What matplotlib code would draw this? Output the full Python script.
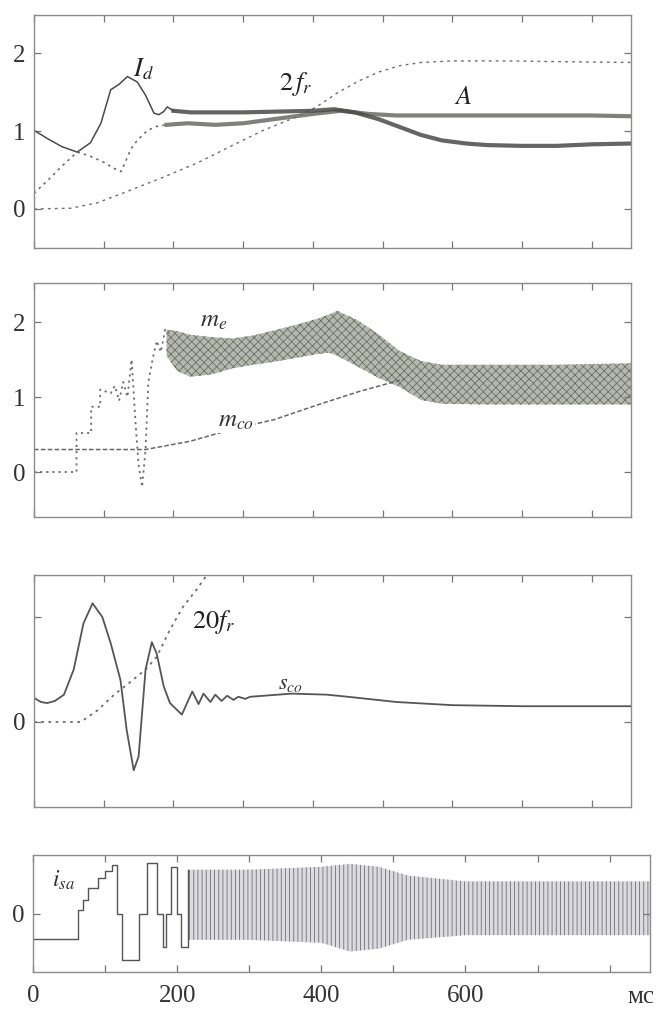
import matplotlib
matplotlib.use("Agg")
import matplotlib.pyplot as plt
import numpy as np

plt.rcParams['font.family'] = ['Liberation Serif', 'DejaVu Serif']
plt.rcParams['mathtext.fontset'] = 'stix'
plt.rcParams['hatch.linewidth'] = 0.6

# ---- panel 1: I_d, A, 2 f_r ----
t_id = [0, 20, 40, 62, 81, 96, 110, 122, 134, 148, 160, 172, 179, 186, 191, 200, 224,
        257, 300, 350, 400, 430, 460, 495, 525, 555, 585, 620, 650, 700, 750, 800, 856]
i_d = [1.01, 0.9, 0.8, 0.73, 0.85, 1.1, 1.53, 1.6, 1.70, 1.63, 1.46, 1.23, 1.21, 1.25, 1.31,
       1.26, 1.24, 1.24, 1.24, 1.25, 1.26, 1.28, 1.24, 1.15, 1.05, 0.95, 0.88, 0.84, 0.82,
       0.81, 0.81, 0.83, 0.84]

t_a = [0, 20, 40, 62, 80, 100, 115, 125, 139, 148, 163, 176, 190, 220, 260, 300, 350,
       400, 440, 480, 520, 600, 700, 800, 856]
a_flux = [0.2, 0.37, 0.55, 0.73, 0.68, 0.6, 0.52, 0.48, 0.77, 0.88, 1.01, 1.06, 1.08, 1.1,
          1.08, 1.1, 1.16, 1.22, 1.26, 1.22, 1.2, 1.2, 1.2, 1.2, 1.19]
a_dotted_end = 190

t_fr = [0, 53, 91, 138, 186, 234, 281, 329, 376, 405, 435, 465, 495, 525, 555, 600, 676,
        760, 856]
fr2 = [0.0, 0.01, 0.08, 0.24, 0.41, 0.59, 0.8, 1.01, 1.18, 1.31, 1.49, 1.64, 1.76, 1.84,
       1.88, 1.9, 1.9, 1.89, 1.88]

# ---- panel 2: m_e, m_co ----
t_me_start = [0, 61, 61, 82, 82, 95, 95, 110, 116, 122, 128, 134, 140, 146, 150, 155, 160,
              164, 170, 176, 182, 188, 194]
me_start = [0, 0, 0.52, 0.52, 0.87, 0.87, 1.1, 1.05, 1.15, 0.95, 1.2, 1.0, 1.5, 0.6, 0.1,
            -0.2, 0.3, 1.2, 1.5, 1.75, 1.6, 1.9, 1.85]
t_me_band = [190, 205, 224, 254, 284, 314, 345, 375, 405, 423, 435, 465, 495, 525, 555,
             585, 650, 750, 856]
me_upper = [1.9, 1.88, 1.83, 1.8, 1.78, 1.82, 1.89, 1.96, 2.04, 2.1, 2.15, 2.02, 1.83, 1.61,
            1.48, 1.43, 1.43, 1.43, 1.45]
me_lower = [1.55, 1.35, 1.27, 1.3, 1.38, 1.43, 1.47, 1.52, 1.57, 1.59, 1.55, 1.4, 1.25, 1.13,
            0.96, 0.91, 0.9, 0.9, 0.9]

t_mco = [0, 160, 224, 284, 345, 405, 465, 531]
m_co = [0.3, 0.3, 0.41, 0.57, 0.7, 0.89, 1.07, 1.24]

# ---- panel 3: s_co, 20 f_r ----
t_s = [0, 10, 19, 30, 43, 57, 71, 84, 98, 110, 124, 133, 143, 150, 160, 169, 176, 186, 195,
       212, 227, 236, 243, 253, 260, 269, 277, 286, 293, 303, 310, 370, 420, 450, 520, 600,
       700, 856]
s_co = [0.23, 0.19, 0.18, 0.2, 0.26, 0.5, 0.94, 1.13, 1.0, 0.75, 0.4, -0.08, -0.46, -0.33,
        0.5, 0.76, 0.65, 0.34, 0.18, 0.07, 0.29, 0.17, 0.27, 0.19, 0.26, 0.2, 0.25, 0.21,
        0.24, 0.22, 0.24, 0.27, 0.26, 0.24, 0.19, 0.16, 0.15, 0.15]

t_f20 = [0, 43, 67, 91, 115, 138, 160, 176, 195, 214, 233, 248, 256]
f20 = [0, 0, 0.0, 0.11, 0.26, 0.38, 0.5, 0.62, 0.88, 1.1, 1.26, 1.4, 1.45]

# ---- panel 4: i_sa ----
t_isa = [0, 63, 63, 70, 77, 90, 100, 109, 116, 124, 147, 156, 158, 172, 180, 185, 191,
         200, 206, 215]
i_sa = [-0.43, -0.34, 0.06, 0.23, 0.43, 0.6, 0.72, 0.83, 0.0, -0.8, 0.0, 0.0, 0.86, 0.0,
        -0.57, 0.0, 0.8, 0.0, -0.57, 0.75]
t_isa_band = [215, 300, 400, 440, 480, 520, 600, 700, 856]
isa_upper = [0.75, 0.75, 0.8, 0.85, 0.8, 0.65, 0.55, 0.55, 0.55]
isa_lower = [-0.45, -0.45, -0.5, -0.65, -0.6, -0.45, -0.37, -0.37, -0.37]

xticks = list(range(0, 900, 100))
xlim = (0, 856)

fig = plt.figure(figsize=(6.56, 10.10), dpi=100)
ax1 = fig.add_axes([0.0518, 0.7545, 0.910, 0.2307])
ax2 = fig.add_axes([0.0518, 0.4881, 0.910, 0.2317])
ax3 = fig.add_axes([0.0518, 0.2010, 0.910, 0.2297])
ax4 = fig.add_axes([0.0503, 0.0376, 0.9405, 0.1158])

frame = '#8c8c8c'
for ax in (ax1, ax2, ax3, ax4):
    ax.set_xlim(*xlim)
    ax.set_xticks(xticks)
    ax.tick_params(direction='in', top=True, right=True, length=5, width=0.9,
                   color='#777777', labelsize=18, labelcolor='#333333', pad=6)
    for sp in ax.spines.values():
        sp.set_color(frame)
        sp.set_linewidth(1.0)
    if ax is not ax4:
        ax.set_xticklabels([])

dark = '#4a4a48'
dots = '#6e6e6e'

# panel 1
t_a_arr = np.array(t_a)
a_arr = np.array(a_flux)
k = np.searchsorted(t_a_arr, a_dotted_end) + 1
ax1.plot(t_fr, fr2, ls=(0, (2, 3)), color=dots, lw=1.0)
ax1.plot(t_a_arr[:k], a_arr[:k], ls=(0, (1.5, 2.5)), color=dots, lw=1.2)
ax1.plot(t_a_arr[k - 1:], a_arr[k - 1:], color='#6a6b64', lw=3.0, alpha=0.85)
ax1.plot(t_id[:16], i_d[:16], color=dark, lw=1.1)
ax1.plot(t_id[15:], i_d[15:], color=dark, lw=3.0, alpha=0.85)
ax1.set_ylim(-0.5, 2.49)
ax1.set_yticks([0, 1, 2])
ax1.text(157, 1.8, '$I_d$', fontsize=19, ha='center', va='center', color='#222222')
ax1.text(375, 1.6, r'$2\,f_r$', fontsize=19, ha='center', va='center', color='#222222')
ax1.text(615, 1.42, '$A$', fontsize=19, ha='center', va='center', color='#222222')

# panel 2
ax2.plot(t_me_start, me_start, ls=(0, (1.2, 2.2)), color=dots, lw=1.3)
ax2.fill_between(t_me_band, me_lower, me_upper, facecolor='#b4b8ad', edgecolor='#6d7068',
                 hatch='xxxx', lw=0)
ax2.plot(t_mco, m_co, ls=(0, (3, 1.5)), color='#666666', lw=1.1)
ax2.set_ylim(-0.6, 2.52)
ax2.set_yticks([0, 1, 2])
ax2.text(257, 2.02, '$m_e$', fontsize=18, ha='center', va='center', color='#333333')
ax2.text(290, 0.68, '$m_{co}$', fontsize=18, ha='center', va='center', color='#333333',
         bbox=dict(facecolor='white', edgecolor='none', pad=0.5))

# panel 3
ax3.plot(t_f20, f20, ls=(0, (1.5, 2.5)), color=dots, lw=1.3)
ax3.plot(t_s, s_co, color='#555555', lw=1.3)
ax3.set_ylim(-0.81, 1.40)
ax3.set_yticks([0, 1])
ax3.set_yticklabels(['0', ''])
ax3.text(258, 0.95, '$20f_r$', fontsize=19, ha='center', va='center', color='#222222')
ax3.text(367, 0.36, '$s_{co}$', fontsize=16, ha='center', va='center', color='#333333')

# panel 4
ax4.plot(t_isa, i_sa, drawstyle='steps-post', color='#555555', lw=1.0)
ax4.fill_between(t_isa_band, isa_lower, isa_upper, facecolor='#dcdbe0', edgecolor='#6f6f78',
                 hatch='||||', lw=0)
ax4.set_ylim(-1, 1)
ax4.set_yticks([0])
ax4.set_xticklabels(['0', '', '200', '', '400', '', '600', '', ''])
ax4.tick_params(axis='x', pad=9)
ax4.text(0.03, 0.78, '$i_{sa}$', transform=ax4.transAxes, fontsize=17, ha='left',
         va='center', color='#333333')
ax4.text(0.985, -0.215, 'мс', transform=ax4.transAxes, fontsize=18, ha='center',
         va='center', color='#333333')

fig.savefig('out.png', dpi=100)
